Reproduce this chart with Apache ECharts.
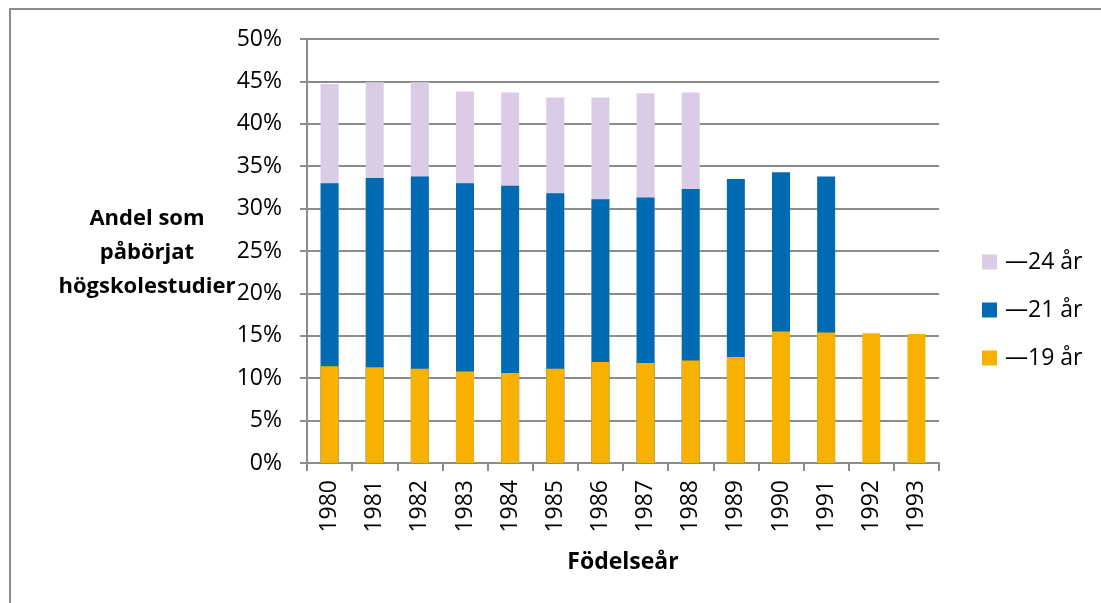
<!DOCTYPE html>
<html>
<head>
<meta charset="utf-8">
<script src="https://cdn.jsdelivr.net/npm/echarts@6/dist/echarts.min.js"></script>
<style>
  html, body { margin: 0; padding: 0; background: #fff; }
  #chart { width: 1101px; height: 603px; }
</style>
</head>
<body>
<div id="chart"></div>
<script>
// födelseår på x-axeln
var years = ['1980', '1981', '1982', '1983', '1984', '1985', '1986', '1987', '1988', '1989', '1990', '1991', '1992', '1993'];
// andel (%) som påbörjat högskolestudier senast vid angiven ålder
var upTo19 = [11.4, 11.3, 11.1, 10.8, 10.6, 11.1, 11.9, 11.8, 12.1, 12.5, 15.5, 15.4, 15.3, 15.2];
var upTo21 = [33.0, 33.6, 33.8, 33.0, 32.7, 31.8, 31.1, 31.3, 32.3, 33.5, 34.3, 33.8, '-', '-'];
var upTo24 = [44.7, 44.9, 44.9, 43.8, 43.7, 43.1, 43.1, 43.6, 43.7, '-', '-', '-', '-', '-'];
var seriesNames = ['—24 år', '—21 år', '—19 år'];

var font = '"Open Sans", Lato, sans-serif';
var grey = '#8c8c8c';
var fs = 23;

var chart = echarts.init(document.getElementById('chart'));
chart.setOption({
  animation: false,
  textStyle: { fontFamily: font },
  grid: { left: 307, right: 162, top: 39, bottom: 140 },
  legend: {
    data: seriesNames,
    orient: 'vertical',
    left: 982,
    top: 250,
    padding: 0,
    itemWidth: 15,
    itemHeight: 15,
    itemGap: 24,
    icon: 'rect',
    textStyle: { fontSize: fs, color: '#000', lineHeight: 24, padding: [0, 0, 0, 3] }
  },
  graphic: [
    {
      type: 'rect',
      shape: { x: 10, y: 9, width: 1120, height: 620 },
      style: { fill: 'none', stroke: grey, lineWidth: 2 },
      silent: true
    },
    {
      type: 'text',
      x: 147,
      y: 253,
      style: {
        text: 'Andel som\npåbörjat\nhögskolestudier',
        fontFamily: font,
        fontSize: 22,
        fontWeight: 'bold',
        lineHeight: 34,
        fill: '#000',
        align: 'center',
        verticalAlign: 'middle'
      }
    }
  ],
  xAxis: {
    type: 'category',
    data: years,
    name: 'Födelseår',
    nameLocation: 'middle',
    nameGap: 88,
    nameTextStyle: { fontSize: fs, fontWeight: 'bold', color: '#000' },
    axisLine: { lineStyle: { color: grey, width: 2 } },
    axisTick: { show: true, length: 8, lineStyle: { color: grey, width: 2 } },
    axisLabel: { rotate: 90, fontSize: fs, color: '#000', margin: 17, interval: 0 }
  },
  yAxis: {
    type: 'value',
    min: 0,
    max: 50,
    interval: 5,
    axisLine: { show: true, lineStyle: { color: grey, width: 2 } },
    axisTick: { show: true, length: 7, lineStyle: { color: grey, width: 2 } },
    axisLabel: { formatter: '{value}%', fontSize: fs, color: '#000', margin: 25 },
    splitLine: { lineStyle: { color: grey, width: 2 } }
  },
  series: [
    {
      name: '—24 år',
      type: 'bar',
      barWidth: 18,
      barGap: '-100%',
      itemStyle: { color: '#dacbe7' },
      data: upTo24
    },
    {
      name: '—21 år',
      type: 'bar',
      barWidth: 18,
      barGap: '-100%',
      itemStyle: { color: '#006bb3' },
      data: upTo21
    },
    {
      name: '—19 år',
      type: 'bar',
      barWidth: 18,
      barGap: '-100%',
      itemStyle: { color: '#f8b100' },
      data: upTo19
    }
  ]
});
</script>
</body>
</html>
